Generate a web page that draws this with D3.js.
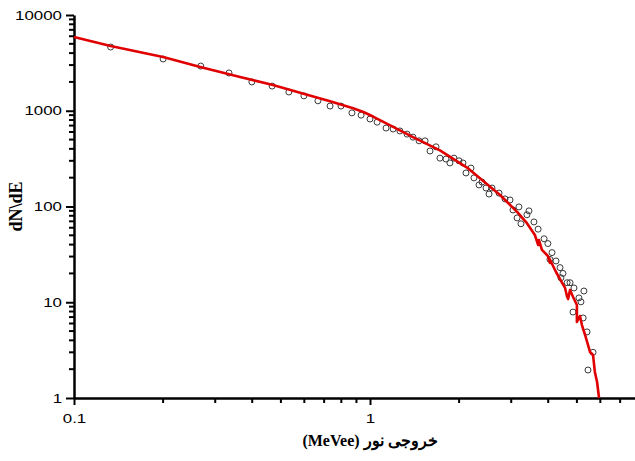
<!DOCTYPE html>
<html>
<head>
<meta charset="utf-8">
<script src="https://cdn.jsdelivr.net/npm/d3@7"></script>
<style>
    body { margin: 0; background: #fff; }
    .tick text { font-family: "Liberation Sans", Arial, sans-serif; font-size: 12.5px; fill: #000; }
    .axisTitle { font-family: "Liberation Serif", "DejaVu Serif", serif; font-weight: bold; fill: #000; }
</style>
</head>
<body>
<svg id="chart"></svg>
<script>
// measured points (circles)
let measX = [0.133, 0.2, 0.268, 0.334, 0.399, 0.467, 0.532, 0.598, 0.667, 0.733, 0.798, 0.869, 0.933, 1.0,
    1.057, 1.133, 1.197, 1.262, 1.334, 1.397, 1.465, 1.535, 1.595, 1.671, 1.723, 1.806, 1.862, 1.922, 1.998,
    2.061, 2.11, 2.193, 2.245, 2.335, 2.39, 2.466, 2.524, 2.583, 2.729, 2.858, 2.972, 3.041, 3.185, 3.14, 3.236,
    3.39, 3.444, 3.58, 3.698, 3.873, 3.99, 4.12, 4.055, 4.25, 4.385, 4.487, 4.416, 4.634, 4.74, 4.887, 5.28,
    5.08, 5.16, 4.85, 5.25, 5.41, 5.67, 5.45];
let measY = [4630, 3470, 2930, 2480, 2000, 1810, 1570, 1430, 1270, 1120, 1120, 950, 900, 820,
    760, 660, 645, 615, 570, 530, 485, 485, 380, 420, 320, 313, 285, 320, 300,
    285, 224, 252, 199, 168, 180, 156, 135, 156, 138, 120, 117, 92, 99, 76, 66,
    82, 90, 69, 58, 46, 41, 33, 28, 27, 23, 20, 18, 16, 16, 14.1, 13.1,
    11.1, 10.1, 7.9, 6.85, 4.9, 3.0, 1.96];

// simulated curve (red)
let simX = [0.1, 0.133, 0.2, 0.267, 0.364, 0.47, 0.613, 0.733, 0.877, 0.95, 1.024, 1.197, 1.397, 1.723, 2.127,
    2.75, 3.14, 3.39, 3.606, 3.70, 3.72, 3.81, 3.99, 4.055, 4.03, 4.25, 4.457, 4.56, 4.634, 4.67, 4.74,
    4.85, 5.0, 5.0, 5.12, 5.2, 5.33, 5.54, 5.67, 5.75, 5.85, 5.94];
let simY = [5890, 4745, 3640, 2860, 2250, 1860, 1470, 1260, 1060, 971, 870, 680, 530, 385, 255,
    132, 88, 67, 50.4, 39.6, 44.7, 35.2, 30.4, 25.7, 29.0, 20.7, 15.9, 14.1, 11.4, 10.8, 13.4,
    11.4, 9.35, 6.22, 7.18, 5.78, 4.55, 3.02, 2.81, 1.87, 1.47, 1];

let xMajor = [0.1, 1];
let xMinor = [0.2, 0.3, 0.4, 0.5, 0.6, 0.7, 0.8, 0.9, 2, 3, 4, 5, 6, 7];
let yMajor = [1, 10, 100, 1000, 10000];
let yMinor = [];
[1, 10, 100, 1000].forEach(function (d) {
    for (let k = 2; k <= 9; k++) yMinor.push(d * k);
});

let width = 635, height = 461;
let plotLeft = 74, plotTop = 15, plotBottom = 398;
let decadeX = 296;
let stretch = 1.35; // tick labels in the picture are wider than normal

let svg = d3.select('#chart').attr('width', width).attr('height', height);

let x = d3.scaleLog()
    .domain([0.1, 8])
    .range([plotLeft, plotLeft + decadeX * Math.log10(80)]);
let y = d3.scaleLog()
    .domain([1, 10000])
    .range([plotBottom, plotTop]);

// major axes
svg.append('g')
    .attr('transform', 'translate(' + plotLeft + ',0)')
    .call(d3.axisLeft(y).tickValues(yMajor).tickSize(8).tickPadding(4).tickSizeOuter(0)
        .tickFormat(d3.format('d')))
    .call(g => g.select('.domain').attr('stroke', '#000').attr('stroke-width', 2.5))
    .call(g => g.selectAll('line').attr('stroke', '#000').attr('stroke-width', 2));
svg.append('g')
    .attr('transform', 'translate(0,' + plotBottom + ')')
    .call(d3.axisBottom(x).tickValues(xMajor).tickSize(7).tickPadding(9).tickSizeOuter(0)
        .tickFormat(d => d === 1 ? '1' : '0.1'))
    .call(g => g.select('.domain').attr('stroke', '#000').attr('stroke-width', 2.5))
    .call(g => g.selectAll('line').attr('stroke', '#000').attr('stroke-width', 2));

svg.selectAll('.tick text').each(function () {
    let w = this.getComputedTextLength();
    if (w > 0) {
        d3.select(this).attr('textLength', w * stretch).attr('lengthAdjust', 'spacingAndGlyphs');
    }
});

// minor ticks
svg.append('g')
    .attr('class', 'minor')
    .selectAll('line')
    .data(yMinor)
    .join('line')
    .attr('x1', plotLeft - 5)
    .attr('x2', plotLeft)
    .attr('y1', d => y(d))
    .attr('y2', d => y(d))
    .style('stroke', '#000')
    .style('stroke-width', '2px');
svg.append('g')
    .attr('class', 'minor')
    .selectAll('line')
    .data(xMinor)
    .join('line')
    .attr('x1', d => x(d))
    .attr('x2', d => x(d))
    .attr('y1', plotBottom)
    .attr('y2', plotBottom + 5)
    .style('stroke', '#000')
    .style('stroke-width', '2px');

// measured circles
let meas = measX.map((d, i) => ({x: d, y: measY[i]}));
svg.append('g')
    .selectAll('circle')
    .data(meas)
    .join('circle')
    .attr('cx', d => x(d.x))
    .attr('cy', d => y(d.y))
    .attr('r', 3)
    .attr('fill', 'none')
    .attr('stroke', '#3a3a3a')
    .attr('stroke-width', 1);

// red curve
let sim = simX.map((d, i) => ({x: d, y: simY[i]}));
svg.append('path')
    .datum(sim)
    .attr('fill', 'none')
    .attr('stroke', '#e00000')
    .attr('stroke-width', 2.6)
    .attr('stroke-linejoin', 'round')
    .attr('d', d3.line()
        .x(d => x(d.x))
        .y(d => y(d.y)));

// titles
svg.append('text')
    .attr('class', 'axisTitle')
    .attr('transform', 'translate(22,' + ((plotTop + plotBottom) / 2) + ') rotate(-90)')
    .style('font-size', '18px')
    .style('text-anchor', 'middle')
    .text('dN\\dE');

svg.append('text')
    .attr('class', 'axisTitle')
    .attr('x', x(1))
    .attr('y', 446)
    .attr('direction', 'rtl')
    .style('font-size', '16px')
    .style('text-anchor', 'middle')
    .text('خروجی نور (MeVee)');
</script>
</body>
</html>
